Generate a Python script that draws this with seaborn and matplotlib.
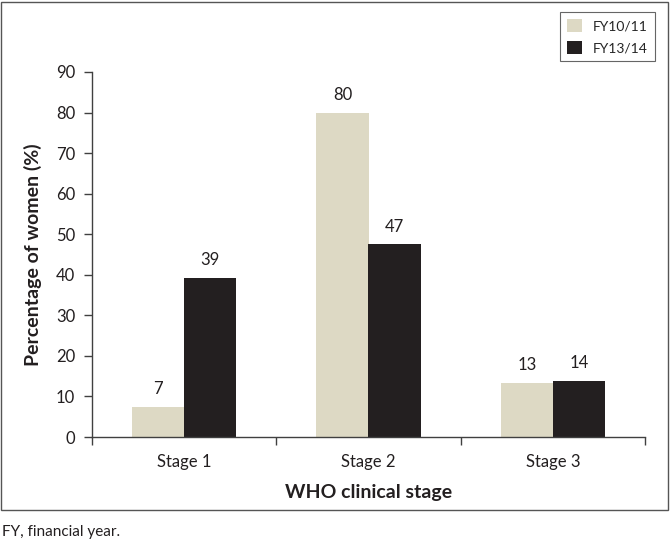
import matplotlib
matplotlib.use("Agg")
import matplotlib.pyplot as plt
import seaborn as sns
import pandas as pd
from matplotlib.patches import Rectangle

stages = ["Stage 1", "Stage 2", "Stage 3"]
fy1011 = [7.4, 80, 13.3]
fy1314 = [39.3, 47.5, 13.8]
labels_1011 = ["7", "80", "13"]
labels_1314 = ["39", "47", "14"]
series = ["FY10/11", "FY13/14"]
yticks = [0, 10, 20, 30, 40, 50, 60, 70, 80, 90]

df = pd.DataFrame({
    "stage": stages * 2,
    "series": [series[0]] * 3 + [series[1]] * 3,
    "value": fy1011 + fy1314,
})

sns.set_theme(style="ticks")
plt.rcParams['font.family'] = ['Lato', 'DejaVu Sans']

fig = plt.figure(figsize=(6.7, 5.46), dpi=100)
ax = fig.add_axes([92/670, 1-437/546, (645-92)/670, (437-72)/546])

sns.barplot(data=df, x="stage", y="value", hue="series", ax=ax,
            palette=["#DDD9C4", "#231F20"], width=0.565, saturation=1,
            edgecolor="none", linewidth=0, legend=True)

for cont, labs in zip(ax.containers, [labels_1011, labels_1314]):
    ax.bar_label(cont, labels=labs, padding=7, fontsize=12, color="#231F20")

ax.set_ylim(0, 90)
ax.set_yticks(yticks)
ax.set_xlim(-0.5, 2.5)
ax.set_xticks([0, 1, 2])
ax.set_xticks([-0.5, 0.5, 1.5, 2.5], minor=True)
ax.tick_params(axis="x", which="major", length=0, labelsize=12, pad=12, colors="#231F20")
ax.tick_params(axis="x", which="minor", length=6, width=1, direction="out", color="#404040")
ax.tick_params(axis="y", which="major", length=6, width=1, direction="out", labelsize=12,
               color="#404040", labelcolor="#231F20", pad=6)
for s in ["top", "right"]:
    ax.spines[s].set_visible(False)
for s in ["left", "bottom"]:
    ax.spines[s].set_color("#404040")
    ax.spines[s].set_linewidth(1)

ax.set_xlabel("WHO clinical stage", fontsize=14, fontweight="bold", labelpad=10, color="#231F20")
ax.set_ylabel("Percentage of women (%)", fontsize=14, fontweight="bold", labelpad=10, color="#231F20")

leg = ax.legend(loc="upper right", bbox_to_anchor=(662/670, 1-5/546), bbox_transform=fig.transFigure,
                frameon=True, fancybox=False, fontsize=10, handlelength=1.1, handleheight=1.1,
                borderpad=0.5, labelspacing=0.6, handletextpad=0.8)
leg.get_frame().set_edgecolor("#404040")
leg.get_frame().set_linewidth(0.8)

fig.patches.append(Rectangle((1/670, 1-510/546), 667/670, 508/546, transform=fig.transFigure,
                             fill=False, edgecolor="#555555", linewidth=1))
fig.text(2/670, 1-532/546, "FY, financial year.", fontsize=11, va="center", ha="left", color="#231F20")

fig.savefig("out.png", dpi=100)
